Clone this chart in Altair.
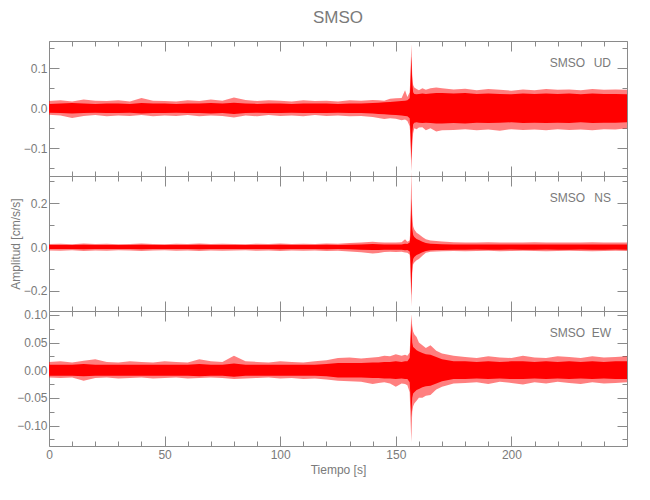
import altair as alt
import pandas as pd

# ---------------- data (envelopes) ----------------
TIME = [0, 5, 10, 15, 20, 25, 30, 35, 40, 45, 50, 55, 60, 65, 70, 75, 80, 85, 90, 95,
        100, 105, 110, 115, 120, 125, 130, 135, 140,
        142.5, 145, 147.5, 150, 152.5, 154, 155, 156, 156.3, 156.7, 157.1, 157.5, 158, 159,
        160, 161.5, 163, 165, 167.5, 170,
        175, 180, 185, 190, 195, 200, 205, 210, 215, 220, 225, 230, 235, 240, 245, 250]

UD_HI = [.018, .020, .017, .022, .019, .018, .020, .017, .026, .019, .018, .017, .020, .018, .022,
         .019, .027, .021, .018, .020, .019, .017, .020, .018, .019, .017, .020, .019, .021,
         .020, .019, .024, .025, .026, .045, .028, .040, .075, .160, .085, .058, .052, .048,
         .045, .050, .046, .050, .052, .050,
         .047, .049, .045, .048, .046, .044, .047, .045, .048, .046, .047, .045, .048, .046, .047, .046]
UD_LO = [-.016, -.018, -.024, -.019, -.017, -.020, -.018, -.019, -.017, -.020, -.018, -.019, -.017,
         -.020, -.018, -.019, -.023, -.018, -.020, -.017, -.019, -.018, -.020, -.017, -.019, -.018,
         -.020, -.019, -.022,
         -.024, -.027, -.025, -.026, -.030, -.028, -.032, -.045, -.070, -.158, -.095, -.062, -.050,
         -.052, -.048, -.047, -.055, -.050, -.058, -.055,
         -.054, -.052, -.055, -.053, -.056, -.052, -.054, -.053, -.055, -.052, -.054, -.053, -.055,
         -.052, -.053, -.050]
UD_CORE = [.011, .012, .013, .012, .011, .012, .012, .011, .013, .012, .012, .011, .012, .012, .013,
           .012, .014, .012, .011, .012, .012, .011, .012, .012, .012, .011, .012, .012, .013,
           .014, .015, .016, .017, .018, .019, .020, .025, .055, .130, .065, .040, .036, .035,
           .036, .037, .036, .037, .038, .038,
           .037, .038, .036, .037, .036, .035, .037, .036, .037, .036, .037, .035, .037, .036, .036, .035]

NS_HI = [.014, .015, .013, .016, .014, .015, .013, .014, .016, .014, .013, .015, .014, .016, .014,
         .015, .014, .013, .015, .014, .016, .014, .015, .014, .016, .015, .018, .020, .024,
         .022, .020, .021, .020, .022, .035, .024, .030, .080, .345, .150, .095, .080, .065,
         .058, .045, .035, .030, .027, .025,
         .022, .021, .020, .022, .020, .021, .020, .022, .021, .020, .021, .020, .022, .021, .020, .021]
NS_LO = [-.016, -.017, -.015, -.018, -.016, -.017, -.015, -.016, -.018, -.016, -.015, -.017, -.016,
         -.018, -.016, -.017, -.016, -.015, -.017, -.016, -.018, -.016, -.017, -.016, -.018, -.017,
         -.020, -.024, -.029,
         -.027, -.023, -.022, -.023, -.022, -.025, -.026, -.035, -.080, -.271, -.120, -.078, -.070,
         -.060, -.055, -.040, -.026, -.022, -.020, -.019,
         -.018, -.019, -.018, -.017, -.019, -.018, -.017, -.018, -.019, -.018, -.017, -.018, -.019,
         -.018, -.017, -.018]
NS_CORE = [.009, .009, .009, .010, .009, .009, .009, .009, .010, .009, .009, .009, .009, .010, .009,
           .009, .009, .009, .009, .009, .010, .009, .009, .009, .010, .009, .010, .012, .014,
           .013, .012, .012, .012, .012, .015, .014, .020, .050, .220, .085, .055, .045, .036,
           .032, .024, .018, .015, .014, .013,
           .012, .012, .011, .012, .012, .011, .012, .012, .011, .012, .012, .011, .012, .012, .011, .012]

EW_HI = [.015, .016, .014, .017, .020, .015, .014, .016, .015, .014, .016, .015, .014, .020, .016,
         .015, .026, .016, .015, .014, .016, .015, .014, .016, .018, .022, .023, .021, .023,
         .024, .026, .025, .029, .026, .028, .026, .032, .060, .101, .080, .070, .065, .060,
         .050, .045, .040, .045, .035, .030,
         .026, .024, .022, .025, .023, .022, .026, .023, .022, .025, .024, .022, .025, .023, .024, .025]
EW_LO = [-.013, -.014, -.013, -.019, -.014, -.013, -.015, -.014, -.013, -.015, -.014, -.013, -.015,
         -.014, -.013, -.014, -.016, -.015, -.014, -.013, -.015, -.014, -.016, -.015, -.017, -.019,
         -.020, -.021, -.025,
         -.023, -.022, -.024, -.030, -.024, -.025, -.027, -.040, -.080, -.130, -.075, -.065, -.060,
         -.055, -.050, -.050, -.046, -.045, -.035, -.030,
         -.024, -.023, -.022, -.025, -.021, -.023, -.026, -.022, -.024, -.021, -.023, -.025, -.022,
         -.024, -.023, -.022]
EW_CORE = [.010, .010, .010, .011, .010, .010, .010, .010, .010, .010, .010, .010, .010, .011, .010,
           .010, .012, .010, .010, .010, .010, .010, .010, .010, .011, .013, .013, .013, .014,
           .014, .015, .015, .016, .015, .016, .016, .022, .045, .085, .050, .042, .040, .036,
           .034, .031, .029, .028, .024, .020,
           .016, .016, .015, .016, .015, .016, .016, .015, .016, .015, .016, .015, .016, .015, .016, .016]

X_DOMAIN = [0, 250]
X_MAJOR = [0, 50, 100, 150, 200, 250]
X_MINOR = [10, 20, 30, 40, 60, 70, 80, 90, 110, 120, 130, 140, 160, 170, 180, 190, 210, 220, 230, 240]

PANELS = [
    ("UD", UD_HI, UD_LO, UD_CORE, [-0.169, 0.168], [-0.1, 0.0, 0.1], [-0.15, -0.05, 0.05, 0.15], ".1f"),
    ("NS", NS_HI, NS_LO, NS_CORE, [-0.291, 0.323], [-0.2, 0.0, 0.2], [-0.1, 0.1, 0.3], ".1f"),
    ("EW", EW_HI, EW_LO, EW_CORE, [-0.137, 0.107], [-0.10, -0.05, 0.0, 0.05, 0.10],
     [-0.125, -0.075, -0.025, 0.025, 0.075], ".2f"),
]

# ---------------- style ----------------
W, H = 578, 135
FONT = "Liberation Sans, Arial, sans-serif"
GRAY = "#8a8a8a"
TXT = "#7a7a7a"


def panel(idx, name, hi, lo, core, ydom, ymajor, yminor, fmt):
    df = pd.DataFrame({"t": TIME, "hi": hi, "lo": lo,
                       "chi": core, "clo": [-c for c in core]})
    last = idx == len(PANELS) - 1
    xscale = alt.Scale(domain=X_DOMAIN, nice=False, zero=False)
    yscale = alt.Scale(domain=ydom, nice=False, zero=False)

    xaxis_kw = dict(values=X_MAJOR, grid=True, gridDash=[10, H - 20, 10], gridColor=GRAY,
                    gridOpacity=1, gridWidth=1, domain=False, ticks=False, tickSize=0,
                    labels=last, labelPadding=3, labelFlush=False, titlePadding=4)
    if last:
        xaxis_kw["labelExpr"] = "datum.value >= 250 ? '' : datum.label"
    yaxis_kw = dict(values=ymajor, format=fmt, grid=True, gridDash=[10, W - 20, 10],
                    gridColor=GRAY, gridOpacity=1, gridWidth=1, domain=False, ticks=False,
                    tickSize=0, labelPadding=2)
    ytitle = None
    if idx == 1:
        ytitle = "Amplitud [cm/s/s]"
        yaxis_kw.update(titleX=-34, titleY=H / 2, titleAngle=270, titleAlign="center",
                        titleBaseline="middle")

    outer = alt.Chart(df).mark_area(color="#ff0000", opacity=0.5, interpolate="linear").encode(
        x=alt.X("t:Q", scale=xscale, axis=alt.Axis(**xaxis_kw),
                title="Tiempo [s]" if last else None),
        y=alt.Y("hi:Q", scale=yscale, axis=alt.Axis(**yaxis_kw), title=ytitle),
        y2="lo:Q",
    )
    inner = alt.Chart(df).mark_area(color="#ff0000", opacity=1, interpolate="linear").encode(
        x=alt.X("t:Q", scale=xscale,
                axis=alt.Axis(orient="top", values=X_MINOR, grid=True, gridDash=[5, H - 10, 5],
                              gridColor=GRAY, gridOpacity=1, domain=False, ticks=False,
                              labels=False), title=None),
        y=alt.Y("chi:Q", scale=yscale,
                axis=alt.Axis(orient="right", values=yminor, grid=True, gridDash=[5, W - 10, 5],
                              gridColor=GRAY, gridOpacity=1, domain=False, ticks=False,
                              labels=False), title=None),
        y2="clo:Q",
    )
    lab1 = alt.Chart(df).mark_text(text="SMSO", align="right", baseline="middle", font=FONT,
                                   fontSize=12, color=TXT).encode(
        x=alt.value(536), y=alt.value(21.5))
    lab2 = alt.Chart(df).mark_text(text=name, align="right", baseline="middle", font=FONT,
                                   fontSize=12, color=TXT).encode(
        x=alt.value(562), y=alt.value(21.5))
    return alt.layer(outer, inner, lab1.transform_filter("datum.t == 0"),
                     lab2.transform_filter("datum.t == 0")).resolve_axis(
        x="independent", y="independent").properties(width=W, height=H)


charts = [panel(i, *p) for i, p in enumerate(PANELS)]

chart = alt.vconcat(*charts, spacing=0, bounds="flush").properties(
    title=alt.TitleParams("SMSO", fontSize=17, font=FONT, color=TXT, fontWeight="normal",
                          anchor="middle", frame="group", offset=14),
    padding={"left": 0, "top": 0, "right": 5, "bottom": 5},
).configure_view(stroke=GRAY, strokeWidth=1).configure_axis(
    labelFont=FONT, labelFontSize=12, labelColor=TXT,
    titleFont=FONT, titleFontSize=12, titleColor=TXT, titleFontWeight="normal",
)

chart.save("out.html", embed_options={"renderer": "svg", "actions": False})
